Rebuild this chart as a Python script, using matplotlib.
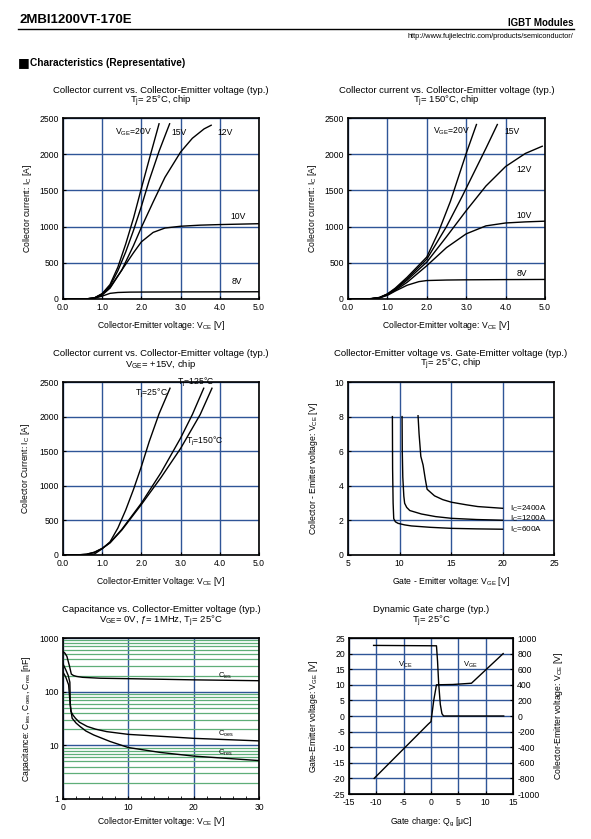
import numpy as np
import matplotlib.pyplot as plt
from matplotlib.ticker import MultipleLocator, LogLocator, NullFormatter

plt.rcParams['font.family'] = ['Liberation Sans', 'DejaVu Sans']
plt.rcParams['mathtext.fontset'] = 'custom'
plt.rcParams['mathtext.rm'] = 'Liberation Sans'
plt.rcParams['mathtext.it'] = 'Liberation Sans:italic'
plt.rcParams['axes.unicode_minus'] = False

W, H = 591, 839
GRID = '#2f5597'
GREEN = '#5fae78'
FS = 6.2

# ---- data: Ic vs Vce, Tj=25C ----
v25_20 = [0, 0.6, 0.8, 1.0, 1.2, 1.4, 1.6, 1.8, 2.0, 2.2, 2.45]
i25_20 = [0, 2, 15, 75, 200, 440, 760, 1120, 1530, 1930, 2420]
v25_15 = [0, 0.6, 0.8, 1.0, 1.2, 1.4, 1.6, 1.8, 2.0, 2.2, 2.45, 2.72]
i25_15 = [0, 2, 14, 70, 180, 390, 650, 950, 1280, 1640, 2040, 2420]
v25_12 = [0, 0.6, 0.8, 1.0, 1.2, 1.5, 1.8, 2.0, 2.3, 2.6, 3.0, 3.3, 3.6, 3.78]
i25_12 = [0, 2, 13, 65, 160, 400, 740, 990, 1340, 1680, 2030, 2220, 2350, 2400]
v25_10 = [0, 0.6, 0.8, 1.0, 1.2, 1.5, 1.8, 2.0, 2.3, 2.6, 3.0, 3.5, 4.0, 5.0]
i25_10 = [0, 2, 12, 55, 150, 400, 640, 790, 920, 980, 1005, 1020, 1028, 1040]
v25_8 = [0, 0.6, 0.8, 1.0, 1.2, 1.4, 1.7, 2.0, 3.0, 4.0, 5.0]
i25_8 = [0, 2, 10, 40, 78, 90, 95, 96, 98, 99, 100]

# ---- data: Ic vs Vce, Tj=150C ----
v150_20 = [0, 0.4, 0.6, 0.8, 1.0, 1.2, 1.5, 2.0, 2.3, 2.6, 2.8, 3.0, 3.26]
i150_20 = [0, 1, 5, 22, 70, 150, 300, 580, 930, 1350, 1680, 2010, 2410]
v150_15 = [0, 0.4, 0.6, 0.8, 1.0, 1.2, 1.5, 2.0, 2.5, 2.9, 3.2, 3.5, 3.79]
i150_15 = [0, 1, 5, 20, 68, 140, 280, 550, 1000, 1420, 1750, 2080, 2410]
v150_12 = [0, 0.4, 0.6, 0.8, 1.0, 1.2, 1.5, 2.0, 2.5, 3.0, 3.5, 4.0, 4.5, 4.93]
i150_12 = [0, 1, 5, 18, 62, 130, 260, 510, 860, 1220, 1560, 1830, 2010, 2110]
v150_10 = [0, 0.4, 0.6, 0.8, 1.0, 1.2, 1.5, 2.0, 2.5, 3.0, 3.5, 4.0, 4.5, 5.0]
i150_10 = [0, 1, 5, 17, 58, 120, 230, 460, 710, 900, 1010, 1050, 1065, 1075]
v150_8 = [0, 0.4, 0.6, 0.8, 1.0, 1.2, 1.5, 1.8, 2.0, 2.5, 3.0, 4.0, 5.0]
i150_8 = [0, 1, 5, 16, 50, 110, 190, 240, 255, 262, 265, 268, 270]

# ---- data: Ic vs Vce, Vge=15V ----
vt25 = [0, 0.6, 0.8, 1.0, 1.2, 1.4, 1.6, 1.8, 2.0, 2.2, 2.45, 2.73]
it25 = [0, 2, 14, 90, 190, 390, 650, 950, 1280, 1640, 2040, 2410]
vt125 = [0, 0.4, 0.6, 0.8, 1.0, 1.2, 1.5, 2.0, 2.5, 3.0, 3.3, 3.59]
it125 = [0, 2, 10, 38, 95, 180, 370, 750, 1190, 1690, 2030, 2410]
vt150 = [0, 0.4, 0.6, 0.8, 1.0, 1.2, 1.5, 2.0, 2.5, 3.0, 3.5, 3.8]
it150 = [0, 3, 12, 40, 95, 175, 360, 730, 1120, 1540, 2030, 2410]

# ---- data: Vce vs Vge ----
vge600 = [9.31, 9.33, 9.38, 9.44, 9.6, 9.86, 10.5, 11.16, 13, 15.05, 17.5, 20]
vce600 = [8, 5, 3, 2.1, 1.92, 1.83, 1.74, 1.68, 1.6, 1.54, 1.51, 1.49]
vge1200 = [10.25, 10.27, 10.32, 10.42, 10.5, 10.7, 11.0, 12.13, 13.5, 15.05, 17.5, 20]
vce1200 = [8, 6, 4.5, 3.4, 2.99, 2.75, 2.57, 2.37, 2.22, 2.12, 2.05, 2.01]
vge2400 = [11.8, 11.9, 12.07, 12.29, 12.5, 12.68, 13.4, 14.2, 15.05, 16.5, 17.6, 20]
vce2400 = [8.05, 7.0, 5.7, 5.2, 4.4, 3.8, 3.42, 3.2, 3.05, 2.9, 2.8, 2.7]

# ---- data: capacitance ----
cies_v = [0, 0.3, 0.6, 1.0, 1.27, 1.6, 2.1, 3, 5.7, 10.8, 20, 30]
cies = [560, 520, 454, 297, 213, 200, 192, 185, 178, 174, 166, 160]
coes_v = [0, 0.4, 0.8, 1.05, 1.12, 1.2, 1.5, 1.9, 2.5, 3.7, 5, 6.7, 10, 15.9, 20, 30]
coes = [330, 260, 200, 150, 60, 43, 37, 32, 27, 22.5, 20, 18, 16, 14.5, 13.5, 12.1]
cres_v = [0, 0.4, 0.86, 1.1, 1.4, 2.0, 2.6, 3.5, 4.7, 7.2, 10, 14.8, 20, 30]
cres = [230, 190, 134, 57, 32, 26, 22.5, 18.5, 15.6, 11.8, 9.1, 7.4, 6.3, 5.2]

# ---- data: gate charge ----
qg_ge = [-10.4, -0.5, 0.0, 0.5, 1.0, 4.0, 7.4, 13.2]
vge_q = [-20, -2.6, -1.8, 5, 10, 10.1, 10.5, 20]
qg_ce = [-10.5, 1.0, 1.2, 1.4, 1.7, 2.0, 2.3, 13.3]
vce_q = [905, 900, 700, 420, 150, 30, 0, 0]

fig = plt.figure(figsize=(W / 100, H / 100), dpi=100)


def box(l, t, r, b):
    return [l / W, 1 - b / H, (r - l) / W, (b - t) / H]


def style(ax):
    for s in ax.spines.values():
        s.set_linewidth(1.2)
    ax.tick_params(direction='in', length=2.5, width=0.8, labelsize=FS, pad=3)
    ax.grid(True, color=GRID, lw=1.0)
    ax.set_axisbelow(True)


def titles(ax, l1, l2, d1=27, d2=16):
    # offsets in pixels above the top spine (1 px = 0.72 pt)
    ax.annotate(l1, xy=(0.5, 1), xycoords='axes fraction', xytext=(0, d1 * 0.72),
                textcoords='offset points', ha='center', va='center', fontsize=6.8)
    ax.annotate(l2, xy=(0.5, 1), xycoords='axes fraction', xytext=(0, d2 * 0.72),
                textcoords='offset points', ha='center', va='center', fontsize=6.8)


# header
fig.text(20 / W, 1 - 20 / H, '2MBI1200VT-170E', fontsize=9.5, weight='bold', va='center')
fig.text(573 / W, 1 - 23 / H, 'IGBT Modules', fontsize=7, weight='bold', va='center', ha='right')
fig.add_artist(plt.Line2D([18 / W, 574 / W], [1 - 29 / H, 1 - 29 / H], color='black', lw=1.0))
fig.text(573 / W, 1 - 37 / H, 'http://www.fujielectric.com/products/semiconductor/', fontsize=5.3,
         va='center', ha='right')
fig.text(18 / W, 1 - 63 / H, '\u25a0', fontsize=9, va='center', family=['DejaVu Sans'])
fig.text(30 / W, 1 - 63 / H, 'Characteristics (Representative)', fontsize=7.3, weight='bold', va='center')

# ---- plot 1 ----
ax1 = fig.add_axes(box(63, 118, 259, 299))
for v, i in [(v25_20, i25_20), (v25_15, i25_15), (v25_12, i25_12), (v25_10, i25_10), (v25_8, i25_8)]:
    ax1.plot(v, i, color='black', lw=1.0)
ax1.set_xlim(0, 5)
ax1.set_ylim(0, 2500)
ax1.xaxis.set_major_locator(MultipleLocator(1))
ax1.yaxis.set_major_locator(MultipleLocator(500))
ax1.xaxis.set_major_formatter(lambda x, p: f'{x:.1f}')
style(ax1)
titles(ax1, 'Collector current vs. Collector-Emitter voltage (typ.)', r'T$_{\mathrm{j}}$= 25°C, chip', 28, 17)
ax1.set_xlabel(r'Collector-Emitter voltage: V$_{\mathrm{CE}}$ [V]', fontsize=FS, labelpad=5)
ax1.set_ylabel(r'Collector current: I$_{\mathrm{C}}$ [A]', fontsize=FS, labelpad=4)
ax1.text(1.32, 2300, r'V$_{\mathrm{GE}}$=20V', fontsize=FS, va='center')
ax1.text(2.76, 2300, '15V', fontsize=FS, va='center')
ax1.text(3.95, 2300, '12V', fontsize=FS, va='center')
ax1.text(4.27, 1140, '10V', fontsize=FS, va='center')
ax1.text(4.31, 240, '8V', fontsize=FS, va='center')

# ---- plot 2 ----
ax2 = fig.add_axes(box(348, 118, 545, 299))
for v, i in [(v150_20, i150_20), (v150_15, i150_15), (v150_12, i150_12), (v150_10, i150_10), (v150_8, i150_8)]:
    ax2.plot(v, i, color='black', lw=1.0)
ax2.set_xlim(0, 5)
ax2.set_ylim(0, 2500)
ax2.xaxis.set_major_locator(MultipleLocator(1))
ax2.yaxis.set_major_locator(MultipleLocator(500))
ax2.xaxis.set_major_formatter(lambda x, p: f'{x:.1f}')
style(ax2)
titles(ax2, 'Collector current vs. Collector-Emitter voltage (typ.)', r'T$_{\mathrm{j}}$= 150°C, chip', 28, 17)
ax2.set_xlabel(r'Collector-Emitter voltage: V$_{\mathrm{CE}}$ [V]', fontsize=FS, labelpad=5)
ax2.set_ylabel(r'Collector current: I$_{\mathrm{C}}$ [A]', fontsize=FS, labelpad=4)
ax2.text(2.16, 2315, r'V$_{\mathrm{GE}}$=20V', fontsize=FS, va='center')
ax2.text(3.97, 2315, '15V', fontsize=FS, va='center')
ax2.text(4.28, 1785, '12V', fontsize=FS, va='center')
ax2.text(4.28, 1160, '10V', fontsize=FS, va='center')
ax2.text(4.28, 355, '8V', fontsize=FS, va='center')

# ---- plot 3 ----
ax3 = fig.add_axes(box(63, 382, 259, 555))
for v, i in [(vt25, it25), (vt125, it125), (vt150, it150)]:
    ax3.plot(v, i, color='black', lw=1.0)
ax3.set_xlim(0, 5)
ax3.set_ylim(0, 2500)
ax3.xaxis.set_major_locator(MultipleLocator(1))
ax3.yaxis.set_major_locator(MultipleLocator(500))
ax3.xaxis.set_major_formatter(lambda x, p: f'{x:.1f}')
style(ax3)
titles(ax3, 'Collector current vs. Collector-Emitter voltage (typ.)', r'V$_{\mathrm{GE}}$= +15V, chip', 29, 18)
ax3.set_xlabel(r'Collector-Emitter Voltage: V$_{\mathrm{CE}}$ [V]', fontsize=FS, labelpad=5)
ax3.set_ylabel(r'Collector Current: I$_{\mathrm{C}}$ [A]', fontsize=FS, labelpad=5)
ax3.text(1.84, 2340, r'T$_{\mathrm{j}}$=25°C', fontsize=FS, va='center')
ax3.text(2.9, 2490, r'T$_{\mathrm{j}}$=125°C', fontsize=FS, va='center')
ax3.text(3.15, 1640, r'T$_{\mathrm{j}}$=150°C', fontsize=FS, va='center')

# ---- plot 4 ----
ax4 = fig.add_axes(box(348, 382, 554, 555))
for v, c in [(vge600, vce600), (vge1200, vce1200), (vge2400, vce2400)]:
    ax4.plot(v, c, color='black', lw=1.0)
ax4.set_xlim(5, 25)
ax4.set_ylim(0, 10)
ax4.xaxis.set_major_locator(MultipleLocator(5))
ax4.yaxis.set_major_locator(MultipleLocator(2))
style(ax4)
titles(ax4, 'Collector-Emitter voltage vs. Gate-Emitter voltage (typ.)', r'T$_{\mathrm{j}}$= 25°C, chip', 29, 18)
ax4.set_xlabel(r'Gate - Emitter voltage: V$_{\mathrm{GE}}$ [V]', fontsize=FS, labelpad=5)
ax4.set_ylabel(r'Collector - Emitter voltage: V$_{\mathrm{CE}}$ [V]', fontsize=FS, labelpad=10)
ax4.text(20.7, 2.68, r'I$_{\mathrm{C}}$=2400A', fontsize=5.9, va='center')
ax4.text(20.7, 2.08, r'I$_{\mathrm{C}}$=1200A', fontsize=5.9, va='center')
ax4.text(20.7, 1.45, r'I$_{\mathrm{C}}$=600A', fontsize=5.9, va='center')

# ---- plot 5 ----
ax5 = fig.add_axes(box(63, 638, 259, 799))
for v, c in [(cies_v, cies), (coes_v, coes), (cres_v, cres)]:
    ax5.plot(v, c, color='black', lw=1.0)
ax5.set_yscale('log')
ax5.set_xlim(0, 30)
ax5.set_ylim(1, 1000)
ax5.xaxis.set_major_locator(MultipleLocator(10))
ax5.xaxis.set_minor_locator(MultipleLocator(2))
ax5.yaxis.set_major_locator(LogLocator(base=10))
ax5.yaxis.set_minor_locator(LogLocator(base=10, subs=np.arange(2, 10)))
ax5.yaxis.set_minor_formatter(NullFormatter())
ax5.yaxis.set_major_formatter(lambda y, p: f'{y:g}')
for s in ax5.spines.values():
    s.set_linewidth(1.2)
ax5.tick_params(which='both', direction='in', labelsize=FS, pad=3)
ax5.tick_params(which='major', length=2.5)
ax5.tick_params(which='minor', length=2)
ax5.tick_params(axis='y', which='minor', length=0)
ax5.grid(True, which='major', color=GRID, lw=1.0)
ax5.grid(True, which='minor', axis='y', color=GREEN, lw=0.9)
ax5.set_axisbelow(True)
titles(ax5, 'Capacitance vs. Collector-Emitter voltage (typ.)',
       r'V$_{\mathrm{GE}}$= 0V, ƒ= 1MHz, T$_{\mathrm{j}}$= 25°C', 28, 17)
ax5.set_xlabel(r'Collector-Emitter voltage: V$_{\mathrm{CE}}$ [V]', fontsize=FS, labelpad=2)
ax5.set_ylabel(r'Capacitance: C$_{\mathrm{ies}}$, C$_{\mathrm{oes}}$, C$_{\mathrm{res}}$ [nF]', fontsize=FS, labelpad=5)
ax5.text(23.7, 200, r'C$_{\mathrm{ies}}$', fontsize=5.5, va='center')
ax5.text(23.7, 16.5, r'C$_{\mathrm{oes}}$', fontsize=5.5, va='center')
ax5.text(23.7, 7.2, r'C$_{\mathrm{res}}$', fontsize=5.5, va='center')

# ---- plot 6 ----
ax6 = fig.add_axes(box(349, 638, 513, 794))
ax6.plot(qg_ge, vge_q, color='black', lw=1.0)
ax6.set_xlim(-15, 15)
ax6.set_ylim(-25, 25)
ax6.xaxis.set_major_locator(MultipleLocator(5))
ax6.yaxis.set_major_locator(MultipleLocator(5))
style(ax6)
ax6r = ax6.twinx()
ax6r.plot(qg_ce, vce_q, color='black', lw=1.0)
ax6r.set_ylim(-1000, 1000)
ax6r.yaxis.set_major_locator(MultipleLocator(200))
ax6r.tick_params(direction='in', length=2.5, labelsize=FS, pad=3)
titles(ax6, 'Dynamic Gate charge (typ.)', r'T$_{\mathrm{j}}$= 25°C', 28, 17)
ax6.set_xlabel(r'Gate charge: Q$_{\mathrm{g}}$ [μC]', fontsize=FS, labelpad=6)
ax6.set_ylabel(r'Gate-Emitter voltage: V$_{\mathrm{GE}}$ [V]', fontsize=FS, labelpad=9)
ax6r.set_ylabel(r'Collector-Emitter voltage: V$_{\mathrm{CE}}$ [V]', fontsize=FS, labelpad=9)
ax6.text(-4.8, 16.5, r'V$_{\mathrm{CE}}$', fontsize=5.5, ha='center', va='center')
ax6.text(7.2, 16.5, r'V$_{\mathrm{GE}}$', fontsize=5.5, ha='center', va='center')

fig.savefig('out.png', dpi=100)
